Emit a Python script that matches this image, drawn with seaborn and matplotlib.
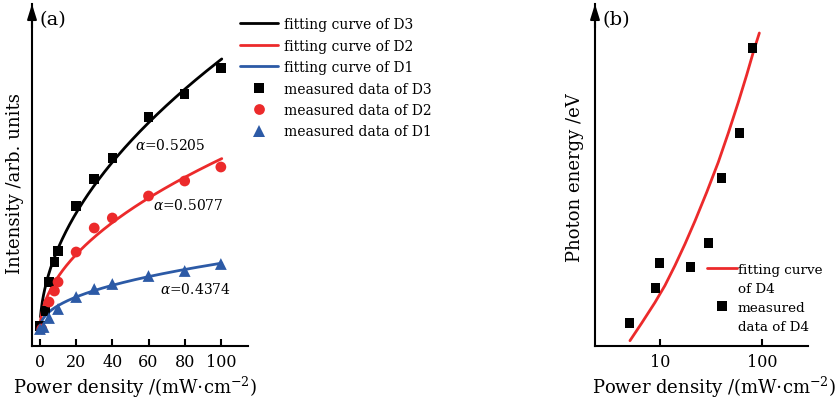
import numpy as np
import pandas as pd
import matplotlib
matplotlib.use("Agg")
import matplotlib.pyplot as plt
import seaborn as sns
from matplotlib.lines import Line2D

# ---------------- data: panel (a) ----------------
d3_x = [0, 3, 5, 8, 10, 20, 30, 40, 60, 80, 100]
d3_y = [20, 35, 64, 84, 95, 140, 167, 188, 229, 252, 278]
d2_x = [1, 5, 8, 10, 20, 30, 40, 60, 80, 100]
d2_y = [17, 44, 55, 64, 94, 118, 128, 150, 165, 179]
d1_x = [0, 2, 5, 10, 20, 30, 40, 60, 80, 100]
d1_y = [17, 19, 28, 37, 49, 57, 62, 70, 75, 82]
fit_names = ["D3", "D2", "D1"]
fit_alpha = [0.5205, 0.5077, 0.4374]
fit_amp = [24.6, 16.5, 8.9]
fit_base = [16, 16, 16]
alpha_pos_x = [72, 82, 86]
alpha_pos_y = [202, 142, 57]
a_xticks = [0, 20, 40, 60, 80, 100]

# ---------------- data: panel (b) ----------------
d4_x = [5, 9, 10, 20, 30, 40, 60, 80]
d4_y = [23, 58, 83, 79, 103, 168, 213, 298]
fit4_x = [5.08, 6.62, 8.93, 11.19, 14.03, 17.58, 22.03, 28.7, 37.3, 46.7, 58.6, 70.8, 82.2, 94.1]
fit4_y = [5.3, 22.9, 43.5, 60.5, 80.5, 102, 125, 153.7, 183.9, 212.9, 243.9, 271.2, 294, 313]
b_xticks = [10, 100]

BLACK = "#000000"
RED = "#ec2a2b"
BLUE = "#2c5aa6"
colors = [BLACK, RED, BLUE]

sns.set_style("ticks")
plt.rcParams["font.family"] = ["DejaVu Serif"]
plt.rcParams["mathtext.fontset"] = "dejavuserif"
plt.rcParams["axes.linewidth"] = 1.5
for k in ["text.color", "axes.labelcolor", "xtick.color", "ytick.color", "axes.edgecolor"]:
    plt.rcParams[k] = "black"

fig = plt.figure(figsize=(8.39, 4.02), dpi=100)
W, H = 839, 402

def add_ax(x0, x1, ytop, ybot):
    return fig.add_axes([x0 / W, 1 - ybot / H, (x1 - x0) / W, (ybot - ytop) / H])

axa = add_ax(32, 248, 5, 347)
axb = add_ax(595, 808, 5, 347)

lab_fs = 13
tick_fs = 11.5

# ----- panel (a) -----
xs = np.linspace(0.3, 100.5, 300)
line_handles = []
for name, a, amp, base, c in zip(fit_names, fit_alpha, fit_amp, fit_base, colors):
    ys = base + amp * xs ** a
    sns.lineplot(x=xs, y=ys, ax=axa, color=c, lw=2.0, legend=False)
    line_handles.append(Line2D([], [], color=c, lw=2.0))

mk_handles = []
for (xx, yy, c, m, ms) in [(d3_x, d3_y, BLACK, "s", 48),
                           (d2_x, d2_y, RED, "o", 60),
                           (d1_x, d1_y, BLUE, "^", 72)]:
    sns.scatterplot(x=xx, y=yy, ax=axa, color=c, marker=m, s=ms,
                    edgecolor="none", legend=False, zorder=3)
    mk_handles.append(Line2D([], [], color=c, marker=m, ls="none",
                             markersize=np.sqrt(ms) * 1.0, markeredgewidth=0))

for a, px, py in zip(fit_alpha, alpha_pos_x, alpha_pos_y):
    axa.text(px, py, r"$\alpha$=%.4f" % a, ha="center", va="center", fontsize=10)

axa.set_xlim(-4.4, 115)
axa.set_ylim(0, 342)
axa.set_xticks(a_xticks)
axa.set_yticks([])
axa.text(0.035, 0.955, "(a)", transform=axa.transAxes, fontsize=14, ha="left", va="center")

labels = ["fitting curve of D3", "fitting curve of D2", "fitting curve of D1",
          "measured data of D3", "measured data of D2", "measured data of D1"]
fig.legend(line_handles + mk_handles, labels, loc="upper left",
           bbox_to_anchor=(240 / W, 1 - 18 / H), frameon=False, fontsize=10,
           handlelength=2.73, handletextpad=0.43, labelspacing=0.54,
           borderpad=0, borderaxespad=0)

# ----- panel (b) -----
axb.set_xscale("log")
sns.lineplot(x=fit4_x, y=fit4_y, ax=axb, color=RED, lw=2.0, legend=False)
sns.scatterplot(x=d4_x, y=d4_y, ax=axb, color=BLACK, marker="s", s=42,
                edgecolor="none", legend=False, zorder=3)
axb.set_xlim(2.31, 282)
axb.set_ylim(0, 342)
axb.set_xticks(b_xticks)
axb.set_xticklabels([str(t) for t in b_xticks])
axb.xaxis.set_minor_locator(matplotlib.ticker.NullLocator())
axb.set_yticks([])
axb.text(0.035, 0.955, "(b)", transform=axb.transAxes, fontsize=14, ha="left", va="center")

blank = Line2D([], [], ls="none")
axb.legend([Line2D([], [], color=RED, lw=2.0), blank,
            Line2D([], [], color=BLACK, marker="s", ls="none", markersize=6.8, markeredgewidth=0),
            blank],
           ["fitting curve", "of D4", "measured", "data of D4"],
           loc="upper left", bbox_to_anchor=((707 - 595) / 213, (347 - 264) / 342),
           frameon=False, fontsize=9.7, handlelength=2.2, handletextpad=0.08,
           labelspacing=0.45, borderpad=0, borderaxespad=0)

for ax in (axa, axb):
    sns.despine(ax=ax)
    ax.tick_params(axis="x", direction="in", length=5, width=1.5, labelsize=tick_fs, pad=5)
    ax.annotate("", xy=(0, 1.0), xytext=(0, 0.93), xycoords="axes fraction",
                arrowprops=dict(arrowstyle="-|>,head_length=0.9,head_width=0.28",
                                color="k", lw=1.5, shrinkA=0, shrinkB=0))

axa.set_xlabel(r"Power density /(mW$\cdot$cm$^{-2}$)", fontsize=lab_fs, va="center")
axa.xaxis.set_label_coords((135 - 32) / 216, (347 - 387) / 342)
axa.set_ylabel("Intensity /arb. units", fontsize=lab_fs, va="center")
axa.yaxis.set_label_coords((15 - 32) / 216, (347 - 184) / 342)

axb.set_xlabel(r"Power density /(mW$\cdot$cm$^{-2}$)", fontsize=lab_fs, va="center")
axb.xaxis.set_label_coords((714 - 595) / 213, (347 - 387) / 342)
axb.set_ylabel("Photon energy /eV", fontsize=lab_fs, va="center")
axb.yaxis.set_label_coords((575 - 595) / 213, (347 - 178) / 342)

fig.savefig("out.png", dpi=100)
